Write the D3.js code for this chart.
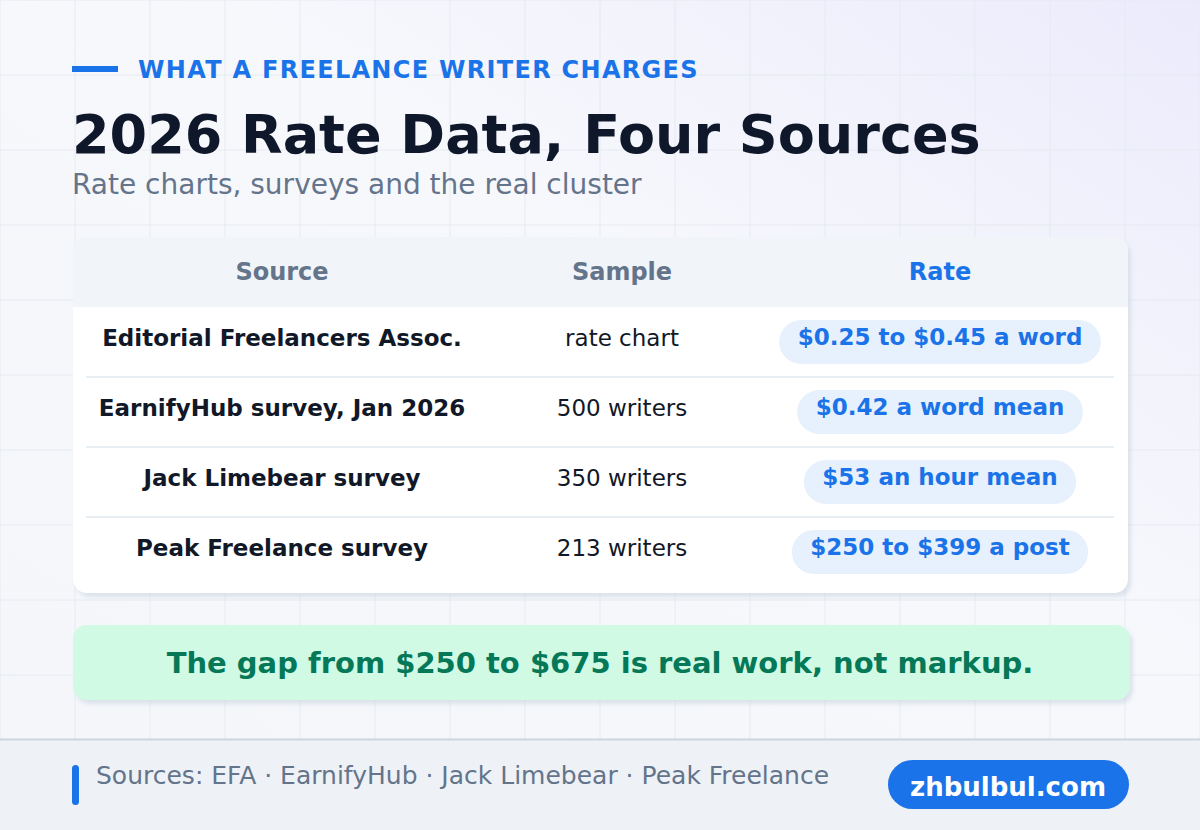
<!DOCTYPE html>
<html><head><meta charset="utf-8">
<script src="https://cdn.jsdelivr.net/npm/d3@7"></script>
<style>body{margin:0}svg{display:block;font-family:"DejaVu Sans",sans-serif}</style>
</head><body><svg id="c" width="1200" height="830"></svg>
<script>
const columns = ["Source", "Sample", "Rate"];
const sources = ["Editorial Freelancers Assoc.", "EarnifyHub survey, Jan 2026", "Jack Limebear survey", "Peak Freelance survey"];
const samples = ["rate chart", "500 writers", "350 writers", "213 writers"];
const rates = ["$0.25 to $0.45 a word", "$0.42 a word mean", "$53 an hour mean", "$250 to $399 a post"];
const kicker = "WHAT A FREELANCE WRITER CHARGES";
const title = "2026 Rate Data, Four Sources";
const subtitle = "Rate charts, surveys and the real cluster";
const callout = "The gap from $250 to $675 is real work, not markup.";
const footer = "Sources: EFA · EarnifyHub · Jack Limebear · Peak Freelance";
const brand = "zhbulbul.com";

const svg = d3.select("#c");
const defs = svg.append("defs");
const g = defs.append("linearGradient").attr("id","bg").attr("x1","0").attr("y1","1").attr("x2","1").attr("y2","0");
g.append("stop").attr("offset","0").attr("stop-color","#f4f6fa");
g.append("stop").attr("offset","0.6").attr("stop-color","#f7f8fc");
g.append("stop").attr("offset","1").attr("stop-color","#ecebfc");
const f = defs.append("filter").attr("id","sh").attr("x","-5%").attr("y","-5%").attr("width","110%").attr("height","120%");
f.append("feDropShadow").attr("dx",3).attr("dy",4).attr("stdDeviation",2).attr("flood-color","#cbd5e1").attr("flood-opacity",0.6);

svg.append("rect").attr("width",1200).attr("height",830).attr("fill","url(#bg)");
for (let x=0;x<=1200;x+=75) svg.append("line").attr("x1",x).attr("x2",x).attr("y1",0).attr("y2",739).attr("stroke","#e6eaf0").attr("stroke-width",1);
for (let y=0;y<=739;y+=75) svg.append("line").attr("y1",y).attr("y2",y).attr("x1",0).attr("x2",1200).attr("stroke","#e6eaf0").attr("stroke-width",1);

svg.append("rect").attr("x",72).attr("y",66).attr("width",46).attr("height",6).attr("fill","#1a73e8");
svg.append("text").attr("x",138).attr("y",78).attr("font-size",24).attr("font-weight","bold").attr("fill","#1a73e8").attr("letter-spacing",1.3).text(kicker);
svg.append("text").attr("x",72).attr("y",153).attr("font-size",54).attr("font-weight","bold").attr("fill","#0f172a").text(title);
svg.append("text").attr("x",72).attr("y",194).attr("font-size",28).attr("fill","#64748b").text(subtitle);

// table
const tx=73, tw=1055, ty=237, hh=70, rh=70;
const x = d3.scaleOrdinal().domain(columns).range([282,622,940]);
const y = d3.scaleBand().domain(sources).range([ty+hh, ty+hh+rh*sources.length]);
svg.append("rect").attr("x",tx).attr("y",ty).attr("width",tw).attr("height",hh+rh*4+6).attr("rx",14).attr("fill","#fff").attr("filter","url(#sh)");
svg.append("path").attr("d",`M${tx},${ty+hh} V${ty+14} Q${tx},${ty} ${tx+14},${ty} H${tx+tw-14} Q${tx+tw},${ty} ${tx+tw},${ty+14} V${ty+hh} Z`).attr("fill","#f1f4f8");
svg.selectAll(".hd").data(columns).join("text").attr("x",d=>x(d)).attr("y",ty+hh/2+8).attr("text-anchor","middle")
  .attr("font-size",24).attr("font-weight","bold").attr("fill",d=>d==="Rate"?"#1a73e8":"#64748b").text(d=>d);
sources.forEach((s,i)=>{
  const yc = y(s)+y.bandwidth()/2 - 4;
  if (i>0) svg.append("line").attr("x1",86).attr("x2",1114).attr("y1",y(s)).attr("y2",y(s)).attr("stroke","#e2e8f0").attr("stroke-width",1.5);
  svg.append("text").attr("x",x("Source")).attr("y",yc+8).attr("text-anchor","middle").attr("font-size",23).attr("font-weight","bold").attr("fill","#111827").text(s);
  svg.append("text").attr("x",x("Sample")).attr("y",yc+8).attr("text-anchor","middle").attr("font-size",23).attr("fill","#111827").text(samples[i]);
  const pg = svg.append("g");
  const t = pg.append("text").attr("x",x("Rate")).attr("y",yc+7).attr("text-anchor","middle").attr("font-size",23).attr("font-weight","bold").attr("fill","#1a73e8").text(rates[i]);
  const w = t.node().getComputedTextLength()+37;
  pg.insert("rect","text").attr("x",x("Rate")-w/2).attr("y",yc-18).attr("width",w).attr("height",44).attr("rx",22).attr("fill","#e7f0fd");
});

// callout
svg.append("rect").attr("x",73).attr("y",625).attr("width",1057).attr("height",75).attr("rx",14).attr("fill","#d1fae5").attr("filter","url(#sh)");
svg.append("text").attr("x",600).attr("y",673).attr("text-anchor","middle").attr("font-size",29).attr("font-weight","bold").attr("fill","#047857").text(callout);

// footer
svg.append("rect").attr("x",0).attr("y",739).attr("width",1200).attr("height",91).attr("fill","#eef2f7");
svg.append("line").attr("x1",0).attr("x2",1200).attr("y1",739.5).attr("y2",739.5).attr("stroke","#cbd5e1").attr("stroke-width",2);
svg.append("rect").attr("x",72).attr("y",765).attr("width",7).attr("height",40).attr("rx",3.5).attr("fill","#1a73e8");
svg.append("text").attr("x",96).attr("y",784).attr("font-size",25).attr("fill","#64748b").text(footer);
svg.append("rect").attr("x",888).attr("y",760).attr("width",241).attr("height",49).attr("rx",24.5).attr("fill","#1a73e8");
svg.append("text").attr("x",1008).attr("y",796).attr("text-anchor","middle").attr("font-size",26).attr("font-weight","bold").attr("fill","#fff").text(brand);
</script></body></html>
